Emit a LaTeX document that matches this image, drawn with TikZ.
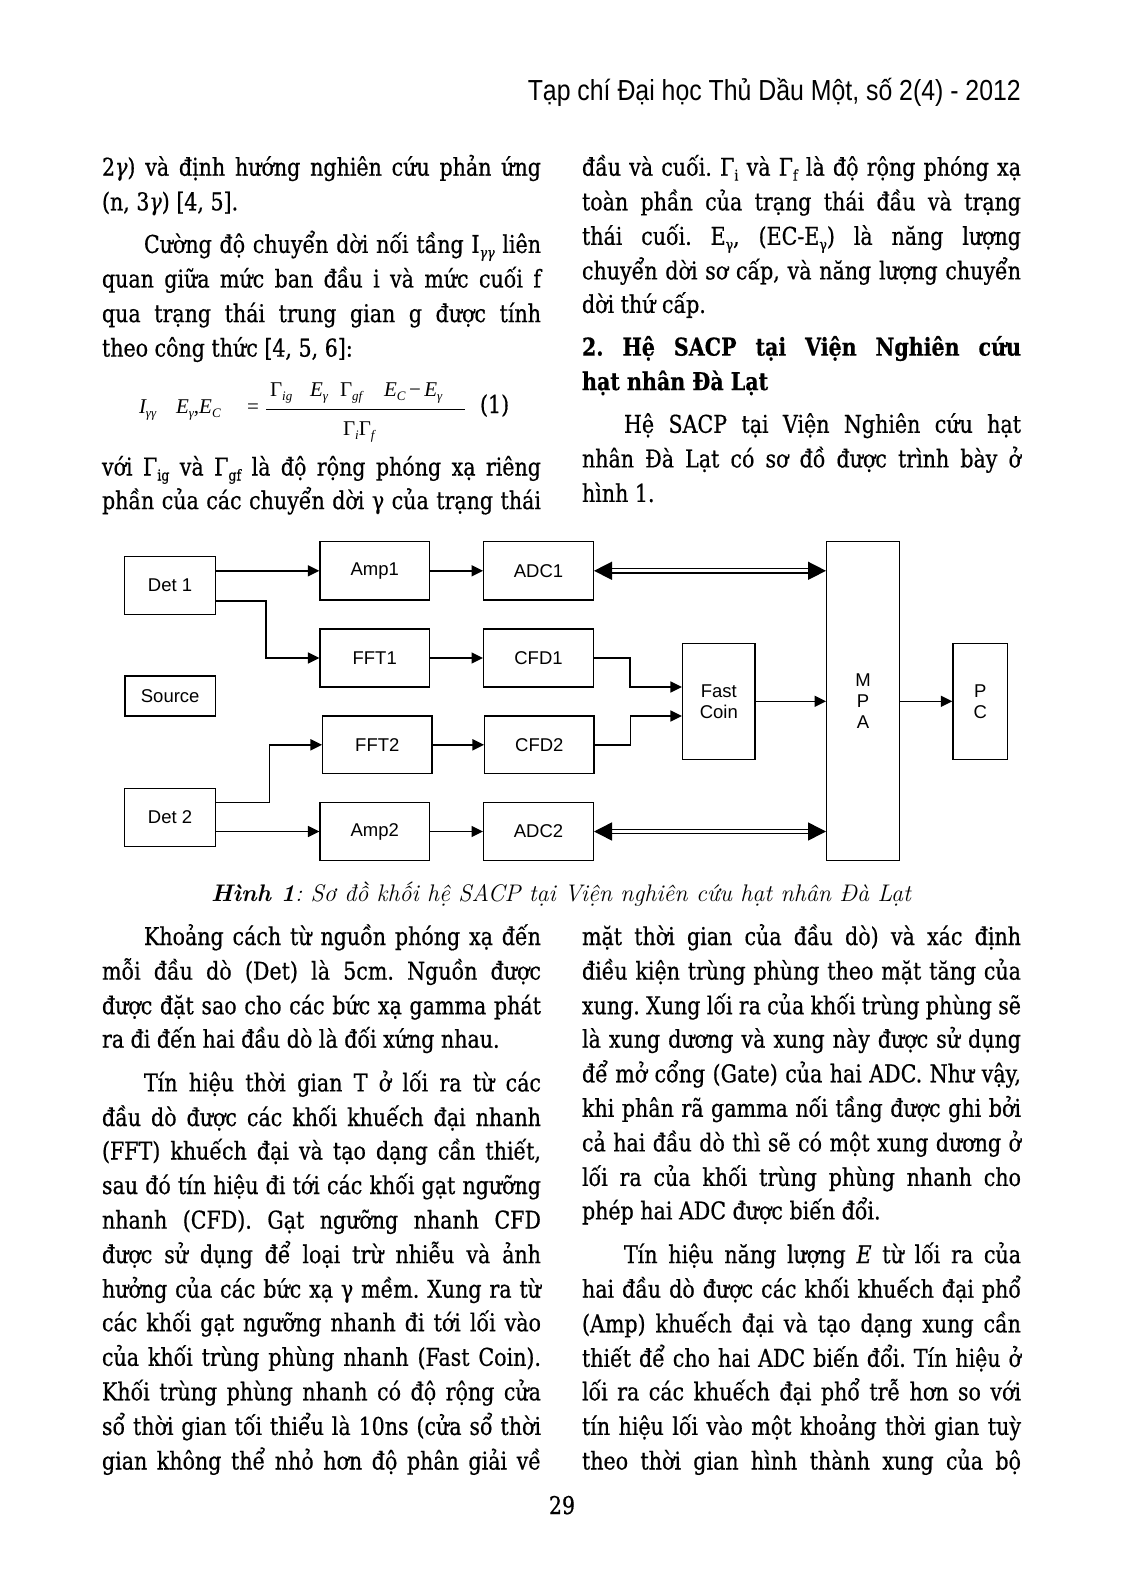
\documentclass[tikz,border=0pt]{standalone}
\usepackage{fontspec}
\usepackage{graphicx}
\usetikzlibrary{arrows.meta,calc}
\newfontfamily\bodyfont{DejaVu Serif}[FakeStretch=0.84,FakeBold=0.6]
\newfontfamily\diafont{Liberation Sans}
\newfontfamily\eqfont{Liberation Serif}
\newfontfamily\hdrfont{Liberation Sans}
\frenchspacing
\newcommand\bsub[1]{\raisebox{-5pt}{\fontsize{15}{15}\selectfont #1}}
\newcommand\esub[1]{\raisebox{-4pt}{\fontsize{13}{13}\selectfont #1}}
\newcounter{lnc}
\newcommand\JL[3]{\stepcounter{lnc}\node[txt] (ln\the\value{lnc}) at (#1,#2) {\hbox to 439pt{#3}};}
\newcommand\NL[3]{\stepcounter{lnc}\node[txt] (ln\the\value{lnc}) at (#1,#2) {#3};}
\tikzset{
  txt/.style={anchor=base west, inner sep=0pt, outer sep=0pt, font=\bodyfont\frenchspacing\fontsize{24.5}{34}\selectfont},
  eqt/.style={anchor=base west, inner sep=0pt, outer sep=0pt, font=\eqfont\fontsize{21}{24}\selectfont},
  blk/.style={draw, line width=1.4pt, inner sep=0pt, align=center, font=\diafont\fontsize{18.5}{21}\selectfont},
  arr/.style={line width=1.6pt, -{Triangle[length=11.5pt,width=11pt]}},
  darr/.style={double, double distance=2.8pt, line width=1.5pt, {Triangle[length=18pt,width=18pt]}-{Triangle[length=18pt,width=18pt]}},
}
\begin{document}
\begin{tikzpicture}[x=1pt,y=-1pt]
\fill[white] (0,0) rectangle (1122,1594);
\useasboundingbox (0,0) rectangle (1122,1594);

% header
\node[anchor=base east, inner sep=0pt] (hdr) at (1021,100.6) {\resizebox{493pt}{\height}{\hdrfont\fontsize{29}{32}\selectfont Tạp chí Đại học Thủ Dầu Một, số 2(4) - 2012}};

% left column top
\JL{102}{175.7}{2{\itshape γ}) và định hướng nghiên cứu phản ứng}
\NL{102}{210.3}{(n, 3{\itshape γ}) [4, 5].}
\JL{102}{252.9}{\hskip42pt Cường độ chuyển dời nối tầng I\bsub{\itshape γγ} liên}
\JL{102}{287.5}{quan giữa mức ban đầu i và mức cuối f}
\JL{102}{322.1}{qua trạng thái trung gian g được tính}
\NL{102}{356.6}{theo công thức [4, 5, 6]:}

% equation
\node[eqt] (eqa) at (139,413) {\itshape I\esub{\itshape γγ}};
\node[eqt] (eqb) at (176,413) {\itshape E\esub{γ}\upshape,\itshape E\esub{\itshape C}};
\node[eqt] (eqc) at (247,413) {=};
\node[eqt] (eqd) at (270,396) {Γ\esub{\itshape ig}};
\node[eqt] (eqe) at (310,396) {\itshape E\esub{γ}};
\node[eqt] (eqf) at (340,396) {Γ\esub{\itshape gf}};
\node[eqt] (eqg) at (384,396) {\itshape E\esub{\itshape C}\,\upshape−\,\itshape E\esub{γ}};
\draw[line width=1pt] (266,409.5) -- (465,409.5);
\node[eqt] (eqh) at (343,435) {Γ\esub{\itshape i}Γ\esub{\itshape f}};
\node[txt] (eqn) at (480,413) {(1)};

\JL{102}{475.5}{với Γ\bsub{ig} và Γ\bsub{gf} là độ rộng phóng xạ riêng}
\JL{102}{509.1}{phần của các chuyển dời γ của trạng thái}

% right column top
\JL{582}{175.7}{đầu và cuối. Γ\bsub{i} và Γ\bsub{f} là độ rộng phóng xạ}
\JL{582}{210.3}{toàn phần của trạng thái đầu và trạng}
\JL{582}{244.8}{thái cuối. E\bsub{γ}, (EC-E\bsub{γ}) là năng lượng}
\JL{582}{279.4}{chuyển dời sơ cấp, và năng lượng chuyển}
\NL{582}{312.9}{dời thứ cấp.}
\JL{582}{355.6}{\bfseries 2. Hệ SACP tại Viện Nghiên cứu}
\NL{582}{390.1}{\bfseries hạt nhân Đà Lạt}
\JL{582}{432.8}{\hskip42pt Hệ SACP tại Viện Nghiên cứu hạt}
\JL{582}{467.4}{nhân Đà Lạt có sơ đồ được trình bày ở}
\NL{582}{501.9}{hình 1.}

% diagram
\node[blk, minimum width=90.6pt, minimum height=58pt] (det1) at (170,585.3) {Det 1};
\node[blk, minimum width=109.3pt, minimum height=58.3pt] (amp1) at (374.7,570.8) {Amp1};
\node[blk, minimum width=109.6pt, minimum height=58.3pt] (adc1) at (538.5,570.8) {ADC1};
\node[blk, minimum width=109.3pt, minimum height=58pt] (fft1) at (374.7,658) {FFT1};
\node[blk, minimum width=109.6pt, minimum height=58pt] (cfd1) at (538.5,658) {CFD1};
\node[blk, minimum width=90.3pt, minimum height=40pt] (src) at (170.2,696) {Source};
\node[blk, minimum width=109.3pt, minimum height=57.7pt] (fft2) at (377.3,744.8) {FFT2};
\node[blk, minimum width=109.3pt, minimum height=57.7pt] (cfd2) at (539.3,744.8) {CFD2};
\node[blk, minimum width=90.6pt, minimum height=57.6pt] (det2) at (170,817.5) {Det 2};
\node[blk, minimum width=109.3pt, minimum height=57.6pt] (amp2) at (374.7,831.5) {Amp2};
\node[blk, minimum width=109.6pt, minimum height=57.6pt] (adc2) at (538.5,831.5) {ADC2};
\node[blk, minimum width=72.6pt, minimum height=318.6pt] (mpa) at (863,701) {M\\P\\A};
\node[blk, minimum width=72.3pt, minimum height=116pt] (fc) at (718.8,701.3) {Fast\\Coin};
\node[blk, minimum width=54.3pt, minimum height=116pt] (pc) at (980.2,701.3) {P\\C};

\draw[arr] (det1.east |- amp1.west) -- (amp1.west);
\draw[arr] ($(det1.south east)+(0,-14.3)$) -- ++(50,0) |- (fft1.west);
\draw[arr] (amp1) -- (adc1);
\draw[arr] (fft1) -- (cfd1);
\draw[arr] ($(det2.east)+(0,-15.2)$) -- ++(53.4,0) |- (fft2.west);
\draw[arr] (det2.east |- amp2.west) -- (amp2.west);
\draw[arr] (amp2) -- (adc2);
\draw[arr] (fft2) -- (cfd2);
\draw[arr] (cfd1.east) -- ++(35.7,0) |- ($(fc.west)+(0,-14.3)$);
\draw[arr] (cfd2.east) -- ++(35.7,0) |- ($(fc.west)+(0,14.7)$);
\draw[arr] (fc.east) -- (fc.east -| mpa.west);
\draw[arr] (mpa.east |- pc.west) -- (pc.west);
\draw[darr] (adc1.east) -- (adc1.east -| mpa.west);
\draw[darr] (adc2.east) -- (adc2.east -| mpa.west);

% caption
\node[anchor=base, inner sep=0pt] (cap) at (561,901.5) {\fontsize{24}{28}\selectfont\itshape{\bfseries Hình 1}: Sơ đồ khối hệ SACP tại Viện nghiên cứu hạt nhân Đà Lạt};

% bottom left
\JL{102}{945.0}{\hskip42pt Khoảng cách từ nguồn phóng xạ đến}
\JL{102}{979.6}{mỗi đầu dò (Det) là 5cm. Nguồn được}
\JL{102}{1014.2}{được đặt sao cho các bức xạ gamma phát}
\NL{102}{1047.7}{ra đi đến hai đầu dò là đối xứng nhau.}
\JL{102}{1091.4}{\hskip42pt Tín hiệu thời gian T ở lối ra từ các}
\JL{102}{1126}{đầu dò được các khối khuếch đại nhanh}
\JL{102}{1159.5}{(FFT) khuếch đại và tạo dạng cần thiết,}
\JL{102}{1194}{sau đó tín hiệu đi tới các khối gạt ngưỡng}
\JL{102}{1228.6}{nhanh (CFD). Gạt ngưỡng nhanh CFD}
\JL{102}{1263.1}{được sử dụng để loại trừ nhiễu và ảnh}
\JL{102}{1297.7}{hưởng của các bức xạ γ mềm. Xung ra từ}
\JL{102}{1331.2}{các khối gạt ngưỡng nhanh đi tới lối vào}
\JL{102}{1365.8}{của khối trùng phùng nhanh (Fast Coin).}
\JL{102}{1400.3}{Khối trùng phùng nhanh có độ rộng cửa}
\JL{102}{1434.9}{sổ thời gian tối thiểu là 10ns (cửa sổ thời}
\JL{102}{1469.5}{gian không thể nhỏ hơn độ phân giải về}

% bottom right
\JL{582}{945.0}{mặt thời gian của đầu dò) và xác định}
\JL{582}{979.6}{điều kiện trùng phùng theo mặt tăng của}
\JL{582}{1014.2}{xung. Xung lối ra của khối trùng phùng sẽ}
\JL{582}{1047.7}{là xung dương và xung này được sử dụng}
\JL{582}{1082.3}{để mở cổng (Gate) của hai ADC. Như vậy,}
\JL{582}{1116.8}{khi phân rã gamma nối tầng được ghi bởi}
\JL{582}{1151.4}{cả hai đầu dò thì sẽ có một xung dương ở}
\JL{582}{1185.9}{lối ra của khối trùng phùng nhanh cho}
\NL{582}{1219.4}{phép hai ADC được biến đổi.}
\JL{582}{1263.1}{\hskip42pt Tín hiệu năng lượng {\itshape E} từ lối ra của}
\JL{582}{1297.7}{hai đầu dò được các khối khuếch đại phổ}
\JL{582}{1332.3}{(Amp) khuếch đại và tạo dạng xung cần}
\JL{582}{1366.8}{thiết để cho hai ADC biến đổi. Tín hiệu ở}
\JL{582}{1400.3}{lối ra các khuếch đại phổ trễ hơn so với}
\JL{582}{1434.9}{tín hiệu lối vào một khoảng thời gian tuỳ}
\JL{582}{1469.5}{theo thời gian hình thành xung của bộ}

% page number
\node[anchor=base, inner sep=0pt, font=\bodyfont\fontsize{24.5}{30}\selectfont] (pg) at (562,1514) {29};
\end{tikzpicture}
\end{document}
